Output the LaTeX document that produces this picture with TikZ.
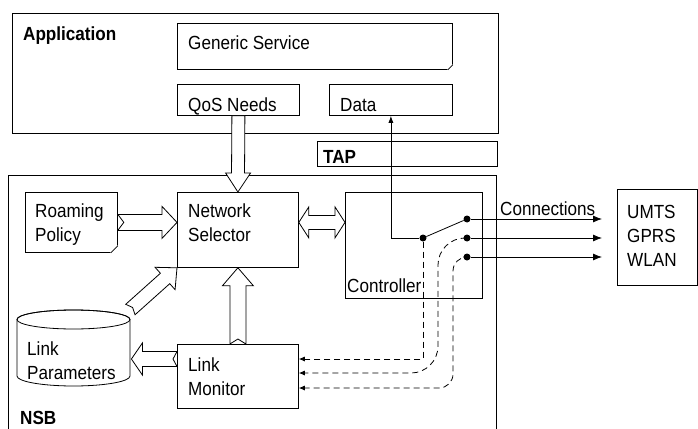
\documentclass[tikz,border=0pt]{standalone}
\usepackage{fontspec}
\setmainfont{Liberation Sans}[FakeStretch=0.9]
\usetikzlibrary{positioning}
\usetikzlibrary{calc}
\usetikzlibrary{arrows.meta}
\tikzset{box/.style={draw, line width=0.8pt, anchor=north west, inner sep=0pt}}
\tikzset{txt/.style={anchor=base west, inner sep=0pt, align=left}}
\tikzset{fatline/.style={draw, line width=0.8pt, fill=white, line join=miter}}
\tikzset{dot/.style={circle, fill, inner sep=0pt, minimum size=7pt}}
\tikzset{wire/.style={line width=0.8pt, -{Latex[length=9pt,width=7pt]}}}
\tikzset{probe/.style={line width=0.8pt, dash pattern=on 6pt off 4pt, -{Latex[length=6pt,width=5pt]}}}

% hollow arrow: from, to, half shaft, half head, head length, tail notch
\newcommand{\fatarrow}[6]{%
  \coordinate (fahb) at ($(#2)!#5!(#1)$);
  \draw[fatline] ($(#1)!#3!90:(#2)$) -- ($(fahb)!#3!90:(#2)$) -- ($(fahb)!#4!90:(#2)$)
    -- (#2) -- ($(fahb)!#4!-90:(#2)$) -- ($(fahb)!#3!-90:(#2)$)
    -- ($(#1)!#3!-90:(#2)$) -- ($(#1)!#6!(#2)$) -- cycle;}

% dog-ear at the south east corner of a box
\newcommand{\foldcorner}[2]{%
  \fill[white] ([xshift=-#2-0.6pt]#1.south east) -- ([xshift=0.6pt, yshift=-0.6pt]#1.south east)
    -- ([yshift=#2+0.6pt]#1.south east) -- cycle;
  \draw[line width=0.8pt] ([xshift=-#2]#1.south east) -- ([yshift=#2]#1.south east);}

\begin{document}
\begin{tikzpicture}[x=1pt, y=-1pt, font=\fontsize{19}{24}\selectfont]

\useasboundingbox (0,0) rectangle (698,428);

% application side
\node[box, minimum width=486pt, minimum height=120pt] (app) at (12,13) {};
\node[txt] (apptxt) at (23,41) {\textbf{Application}};
\node[box, minimum width=275pt, minimum height=46pt] (gen) at (177,23) {};
\foldcorner{gen}{5pt}
\node[txt] (gentxt) at (188,49) {Generic Service};
\node[box, minimum width=122pt, minimum height=31pt] (qos) at (177,84) {};
\node[txt] (qostxt) at (188,111) {QoS Needs};
\node[box, minimum width=123pt, minimum height=31pt] (data) at (329,84) {};
\node[txt] (datatxt) at (340,111) {Data};

\node[box, minimum width=180pt, minimum height=25pt] (tap) at (317,141) {};
\node[txt] (taptxt) at (323,163) {\textbf{TAP}};

% network selection box
\node[box, minimum width=488pt, minimum height=275pt] (nsb) at (8,175) {};
\node[txt] (nsbtxt) at (20,424) {\textbf{NSB}};

\node[box, minimum width=92pt, minimum height=60pt] (roam) at (25,192) {};
\foldcorner{roam}{7pt}
\node[txt] (roamtxt) at (35,241) {Roaming\\Policy};
\node[box, minimum width=121pt, minimum height=75pt] (netsel) at (177,192) {};
\node[txt] (netseltxt) at (188,241) {Network\\Selector};
\node[box, minimum width=137pt, minimum height=106pt] (ctrl) at (345,192) {};
\node[txt] (ctrltxt) at (347,292) {Controller};
\node[box, minimum width=121pt, minimum height=64pt] (lmon) at (177,344) {};
\node[txt] (lmontxt) at (188,395) {Link\\Monitor};

\node[anchor=north west, inner sep=0pt, minimum width=113pt, minimum height=76pt] (lpar) at (17,310) {};
\draw[line width=0.8pt, fill=white] (17,319.5) -- (17,376) arc[start angle=180, end angle=0, x radius=56.5, y radius=10]
  -- (130,319.5) arc[start angle=0, end angle=-180, x radius=56.5, y radius=9.5];
\draw[line width=0.8pt] (73.5,319.5) ellipse[x radius=56.5, y radius=9.5];
\node[txt] (lpartxt) at (27,379) {Link\\Parameters};

\node[box, minimum width=80pt, minimum height=96pt] (net) at (617,189) {};
\node[txt] (nettxt) at (627,266) {UMTS\\GPRS\\WLAN};
\node[txt] (conntxt) at (500,215) {Connections};

% hollow arrows
\coordinate (rb) at (roam.east -| netsel.west);
\coordinate (lma) at ([yshift=-15pt]lmon.north west);
\path (lma -| lpar.east) ++(1,0) coordinate (lmb);
\coordinate (dgt) at ([yshift=0.5pt]lpar.north east);
\fatarrow{qos.south}{netsel.north}{6.5pt}{12.5pt}{19pt}{0pt}
\fatarrow{roam.east}{rb}{8pt}{16pt}{15pt}{6pt}
\fatarrow{lmon.north}{netsel.south}{8pt}{15.5pt}{18pt}{5pt}
\fatarrow{lma}{lmb}{7.5pt}{16pt}{11pt}{4pt}
\fatarrow{dgt}{netsel.south west}{7pt}{15pt}{16pt}{3pt}

\coordinate (dl) at (netsel.east |- roam.east);
\coordinate (dr) at (ctrl.west |- roam.east);
\draw[fatline] (dl) -- ($(dl)+(10,-15.5)$) -- ($(dl)+(10,-7)$) -- ($(dr)+(-10,-7)$)
  -- ($(dr)+(-10,-15.5)$) -- (dr) -- ($(dr)+(-10,15.5)$) -- ($(dr)+(-10,7)$)
  -- ($(dl)+(10,7)$) -- ($(dl)+(10,15.5)$) -- cycle;

% switch
\node[dot] (s0) at (423,238) {};
\node[dot] (s1) at (467,219) {};
\node[dot] (s2) at (467,238) {};
\node[dot] (s3) at (467,257) {};
\coordinate (tipx) at (602,0);

\draw[line width=0.8pt, -{Latex[length=7pt,width=5pt]}] (s0) -| (data.south);
\draw[line width=0.8pt] (s0) -- (s1);
\draw[wire] (s1) -- (s1 -| tipx);
\draw[wire] (s2) -- (s2 -| tipx);
\draw[wire] (s3) -- (s3 -| tipx);

% monitoring lines
\coordinate (lm1) at ([yshift=-15pt]lmon.north east);
\coordinate (lm2) at ([yshift=-29pt]lmon.north east);
\coordinate (lm3) at ([yshift=-44pt]lmon.north east);
\coordinate (bend2) at (438,0);
\coordinate (bend3) at (453,0);
\draw[probe] (s0) |- (lm1);
\draw[probe] (s2) [rounded corners=27pt] -| (bend2 |- lm2) [sharp corners] -- (lm2);
\draw[probe] (s3) [rounded corners=14pt] -| (bend3 |- lm3) [sharp corners] -- (lm3);

\end{tikzpicture}
\end{document}
